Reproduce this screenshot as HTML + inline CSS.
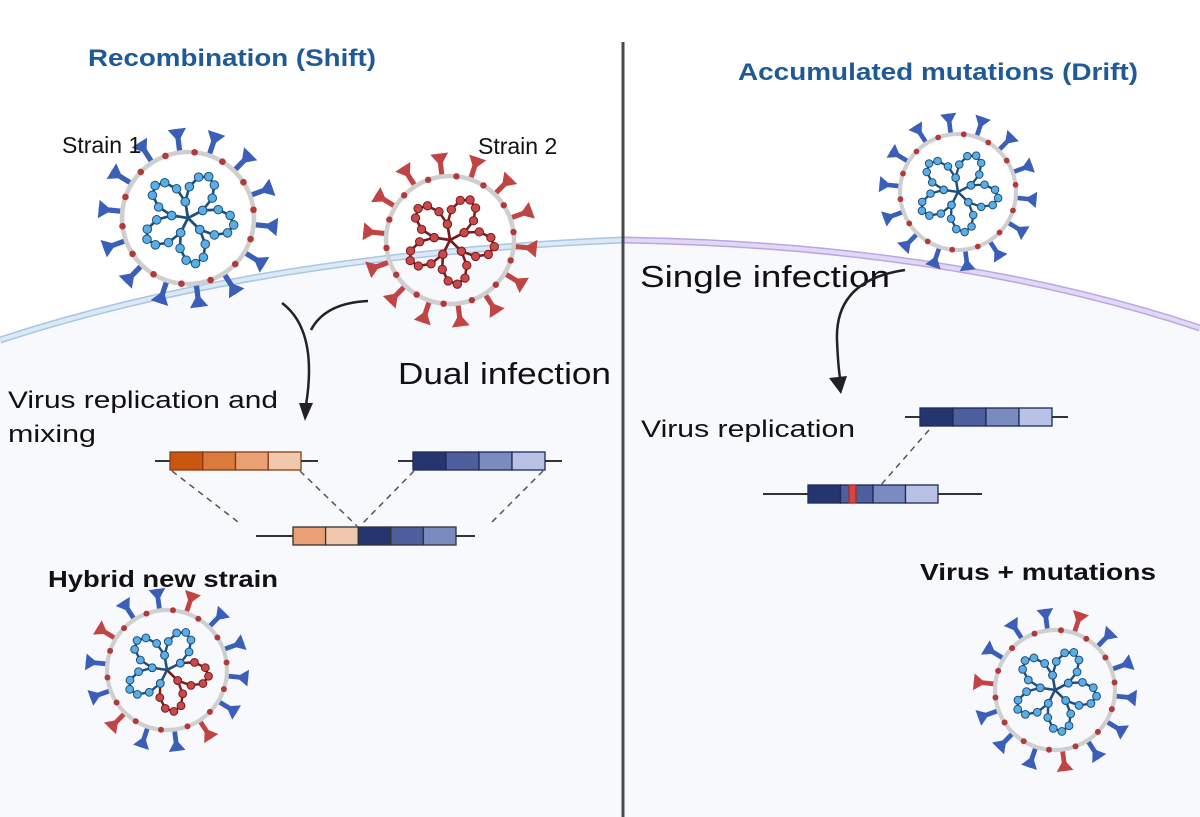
<!DOCTYPE html>
<html><head><meta charset="utf-8"><style>
html,body{margin:0;padding:0;background:#fff}
svg{display:block}
text{font-family:"Liberation Sans",Arial,sans-serif}
</style></head><body>
<svg id="s" width="1200" height="817" viewBox="0 0 1200 817" xmlns="http://www.w3.org/2000/svg">
<rect width="1200" height="817" fill="#fff"/>
<path d="M0,340 Q260,255 623,240 L623,817 L0,817Z" fill="#f8f9fd"/>
<path d="M623,240 Q950,245 1200,328 L1200,817 L623,817Z" fill="#f8f9fd"/>
<path d="M0,340 Q260,255 623,240" fill="none" stroke="#a9c6e2" stroke-width="7"/>
<path d="M0,340 Q260,255 623,240" fill="none" stroke="#dbe8f5" stroke-width="4"/>
<path d="M623,240 Q950,245 1200,328" fill="none" stroke="#bca6e2" stroke-width="7"/>
<path d="M623,240 Q950,245 1200,328" fill="none" stroke="#e2d7f4" stroke-width="4"/>
<line x1="623" y1="42" x2="623" y2="817" stroke="#4a4a4a" stroke-width="3"/>
<g id="v"></g>
<text x="88" y="66" font-size="24" fill="#1f5a96" font-weight="bold" textLength="288" lengthAdjust="spacingAndGlyphs">Recombination (Shift)</text>
<text x="738" y="80" font-size="24" fill="#1f5a96" font-weight="bold" textLength="400" lengthAdjust="spacingAndGlyphs">Accumulated mutations (Drift)</text>
<text x="62" y="153" font-size="23" fill="#111">Strain 1</text>
<text x="478" y="154" font-size="23" fill="#111">Strain 2</text>
<text x="398" y="384" font-size="31" fill="#111" textLength="213" lengthAdjust="spacingAndGlyphs">Dual infection</text>
<text x="8" y="408" font-size="24" fill="#111" textLength="270" lengthAdjust="spacingAndGlyphs">Virus replication and</text>
<text x="8" y="442" font-size="24" fill="#111" textLength="88" lengthAdjust="spacingAndGlyphs">mixing</text>
<text x="48" y="587" font-size="23" fill="#111" font-weight="bold" textLength="230" lengthAdjust="spacingAndGlyphs">Hybrid new strain</text>
<text x="640" y="287" font-size="31" fill="#111" textLength="250" lengthAdjust="spacingAndGlyphs">Single  infection</text>
<text x="641" y="437" font-size="24" fill="#111" textLength="214" lengthAdjust="spacingAndGlyphs">Virus replication</text>
<text x="920" y="580" font-size="23" fill="#111" font-weight="bold" textLength="236" lengthAdjust="spacingAndGlyphs">Virus + mutations</text>
<path d="M368,301 Q325,303 311,330" fill="none" stroke="#222" stroke-width="2.5"/>
<path d="M282,303 Q318,330 306,405" fill="none" stroke="#222" stroke-width="2.5"/>
<path d="M299,403 L313,403 L305,421Z" fill="#222"/>
<path d="M905,270 Q835,280 837,340 Q838,365 840,378" fill="none" stroke="#222" stroke-width="2.5"/>
<path d="M829,378 L847,376 L841,394Z" fill="#222"/>
<g stroke-dasharray="6,5" stroke="#555" stroke-width="1.5">
<line x1="172" y1="471" x2="238" y2="522"/><line x1="300" y1="471" x2="357" y2="526"/>
<line x1="414" y1="471" x2="362" y2="524"/><line x1="543" y1="471" x2="490" y2="524"/>
<line x1="929" y1="430" x2="880" y2="486"/>
</g>
<g id="bars"></g>
</svg>
<script>
const NS="http://www.w3.org/2000/svg";
function el(p,t,a){const e=document.createElementNS(NS,t);for(const k in a)e.setAttribute(k,a[k]);p.appendChild(e);return e;}
const bars=document.getElementById('bars');
function bar(x1,x2,y,h,lx1,lx2,cols,stroke,red){
 el(bars,'line',{x1:lx1,y1:y+h/2,x2:lx2,y2:y+h/2,stroke:'#333','stroke-width':2});
 const w=(x2-x1)/cols.length;
 cols.forEach((c,i)=>el(bars,'rect',{x:x1+i*w,y:y,width:w,height:h,fill:c,stroke:stroke,'stroke-width':1.3}));
 if(red)el(bars,'rect',{x:red,y:y,width:7,height:h,fill:'#d9453b',stroke:'#a02020'});
}
const OR=['#c9570f','#da7a3c','#e8a074','#f0c8ae'],BL=['#25366e','#4d5f9c','#7a8bc0','#b7c2e4'];
bar(170,301,452,18,155,318,OR,'#8a3a10');
bar(413,545,452,18,398,562,BL,'#1d2a5a');
bar(293,456,527,18,256,475,[OR[2],OR[3],BL[0],BL[1],BL[2]],'#333');
bar(920,1052,408,18,905,1068,BL,'#1d2a5a');
bar(808,938,485,18,763,982,BL,'#1d2a5a',849);
const g=document.getElementById('v');
function virus(cx,cy,R,inner,spikeCols){
 const G=el(g,'g',{});
 const n=14;
 for(let i=0;i<n;i++){const a=i/n*2*Math.PI+0.1;const c=spikeCols[i%spikeCols.length];
  const x0=cx+Math.cos(a)*R,y0=cy+Math.sin(a)*R,x1=cx+Math.cos(a)*(R+R*0.36),y1=cy+Math.sin(a)*(R+R*0.36);
  el(G,'line',{x1:x0,y1:y0,x2:x1,y2:y1,stroke:c,'stroke-width':R*0.08});
  const d=R*0.14,px=-Math.sin(a),py=Math.cos(a);
  const x2=cx+Math.cos(a)*(R+R*0.16),y2=cy+Math.sin(a)*(R+R*0.16);
  el(G,'path',{d:`M${x2},${y2} L${x1+px*d},${y1+py*d} L${x1-px*d},${y1-py*d}Z`,fill:c});
 }
 el(G,'circle',{cx,cy,r:R,fill:'none',stroke:'#cfcfcf','stroke-width':R*0.07});
 for(let i=0;i<n;i++){const a=(i+0.5)/n*2*Math.PI+0.1;
  el(G,'circle',{cx:cx+Math.cos(a)*R,cy:cy+Math.sin(a)*R,r:R*0.05,fill:'#b03a3a'});}
 for(let k=0;k<5;k++){const base=k/5*2*Math.PI;const col=inner[k%inner.length];
  const pts=[];for(let j=0;j<7;j++){const t=base+(j-3)*0.16;const rr=R*(0.25+0.45*Math.sin(j/6*Math.PI));
   pts.push([cx+Math.cos(t+0.3*j/6)*rr,cy+Math.sin(t+0.3*j/6)*rr]);}
  el(G,'path',{d:'M'+cx+','+cy+' '+pts.map(p=>'L'+p[0]+','+p[1]).join(' ')+'Z',fill:'none',stroke:col[1],'stroke-width':R*0.04});
  pts.forEach(p=>el(G,'circle',{cx:p[0],cy:p[1],r:R*0.065,fill:col[0],stroke:col[1],'stroke-width':1}));
 }
}
const B=[['#5aaee6','#1f4f7a']],Rd=[['#c9484c','#7a1a1a']];
virus(188,218,66,B,['#3b5fb8']);
virus(450,240,64,Rd,['#c04444']);
virus(958,192,58,B,['#3b5fb8']);
virus(167,670,60,[Rd[0],Rd[0],B[0],B[0],B[0]],['#3b5fb8','#3b5fb8','#c04444']);
virus(1055,690,60,B,['#3b5fb8','#3b5fb8','#3b5fb8','#c04444']);
</script>
</body></html>
